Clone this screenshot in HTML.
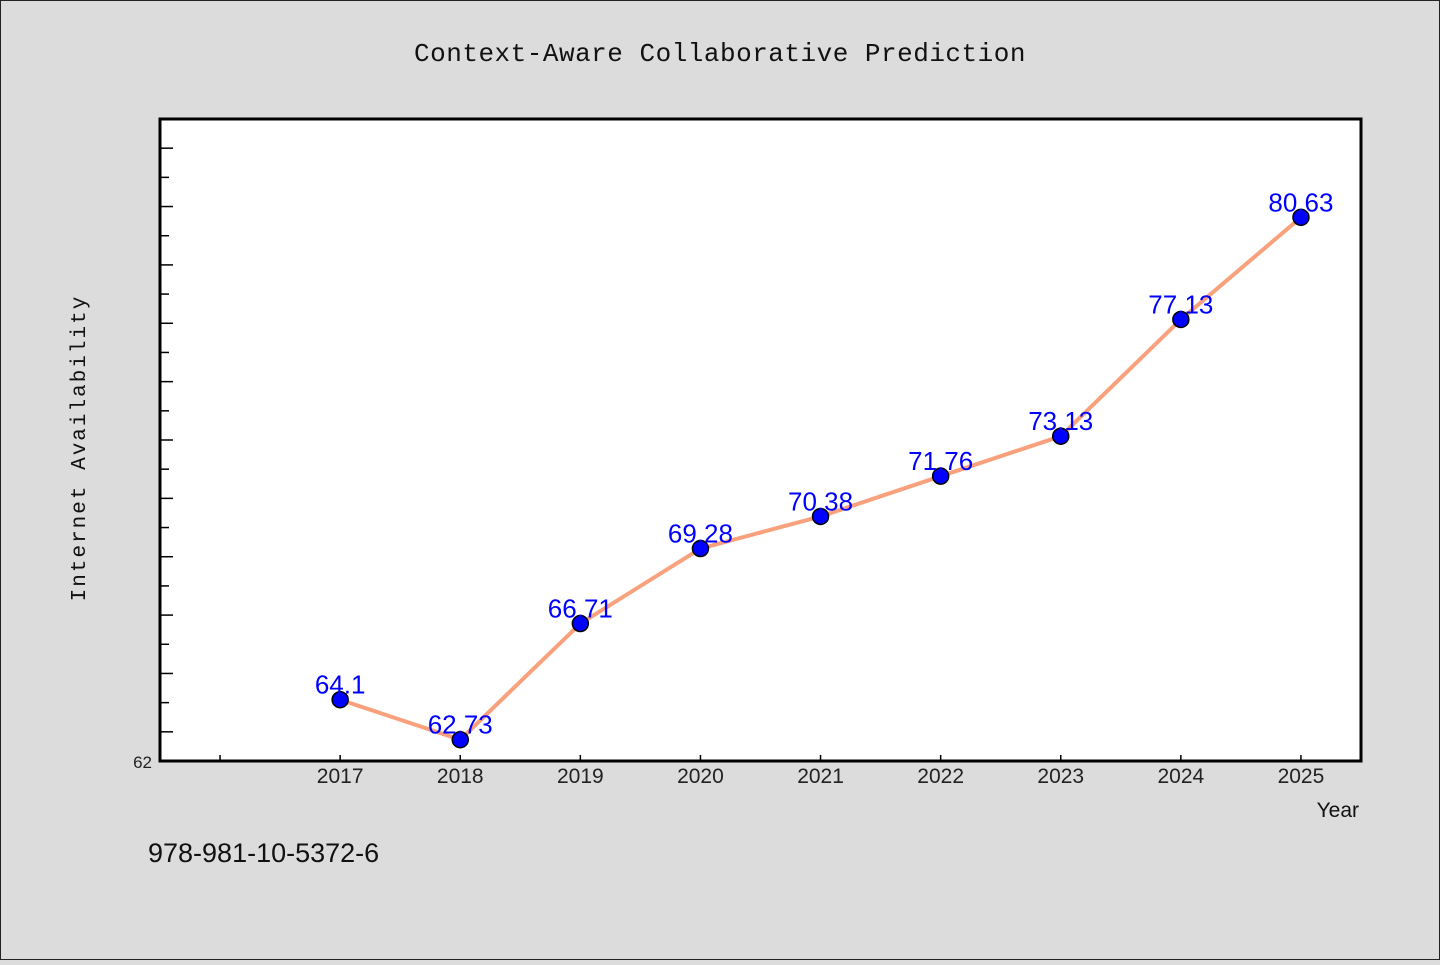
<!DOCTYPE html>
<html><head><meta charset="utf-8"><style>
body{margin:0;background:#dcdcdc;width:1440px;height:960px;overflow:hidden;font-family:"Liberation Sans","WenQuanYi Zen Hei",sans-serif}
</style></head><body>
<svg id="chart" width="1440" height="960" xmlns="http://www.w3.org/2000/svg">
<rect x="0.5" y="0.5" width="1439" height="959" fill="#dcdcdc" stroke="#222"/>
<text x="720" y="61" text-anchor="middle" font-family="Liberation Mono, monospace" font-size="26" letter-spacing="0.5" fill="#111">Context-Aware Collaborative Prediction</text>
<rect x="160" y="119" width="1201" height="642" fill="#fff" stroke="#000" stroke-width="3"/>
<g id="yticks"></g><g id="xticks"></g>
<text x="85" y="448" transform="rotate(-90 85 448)" text-anchor="middle" font-family="Liberation Mono, monospace" font-size="21" letter-spacing="2" fill="#111">Internet Availability</text>
<text x="1359" y="817" text-anchor="end" font-size="21" fill="#111">Year</text>
<text x="148" y="862" font-size="27" fill="#111">978-981-10-5372-6</text>
<g id="series"></g>
</svg>
<script>
const years=[2017,2018,2019,2020,2021,2022,2023,2024,2025];
const values=[64.1,62.73,66.71,69.28,70.38,71.76,73.13,77.13,80.63];
const labels=["64.1","62.73","66.71","69.28","70.38","71.76","73.13","77.13","80.63"];
const yMin=62,yMax=84;
const NS="http://www.w3.org/2000/svg";
const X0=160,X1=1361,Y0=761,Y1=119;
function xs(v){return X0+(v-2015.5)/10*(X1-X0);}
function ys(v){return Y0-(v-yMin)/(yMax-yMin)*(Y0-Y1);}
function mk(t,a,p){const e=document.createElementNS(NS,t);for(const k in a)e.setAttribute(k,a[k]);p.appendChild(e);return e;}
const yt=document.getElementById('yticks');
for(let v=yMin+1;v<yMax;v++){const l=mk('line',{x1:X0,x2:X0+(v%2?13:9),y1:ys(v),y2:ys(v),stroke:'#000','stroke-width':1.5},yt);

}
const yl=mk('text',{x:152,y:Y0+7,'text-anchor':'end','font-size':17,fill:'#222'},yt);yl.textContent=String(yMin);


const xt=document.getElementById('xticks');
for(let y=2016;y<=2025;y++){const l=mk('line',{x1:xs(y),x2:xs(y),y1:Y0,y2:Y0-6,stroke:'#000','stroke-width':1.5},xt);

}
years.forEach(y=>{const t=mk('text',{x:xs(y),y:783,'text-anchor':'middle','font-size':21,fill:'#222'},xt);t.textContent=y;

});
const s=document.getElementById('series');
const pl=mk('polyline',{points:years.map((y,i)=>xs(y)+','+ys(values[i])).join(' '),fill:'none',stroke:'#f9a07c','stroke-width':4},s);


years.forEach((y,i)=>{const c=mk('circle',{cx:xs(y),cy:ys(values[i]),r:8,fill:'#0000ff',stroke:'#000','stroke-width':1.5},s);


const t=mk('text',{x:xs(y),y:ys(values[i])-6,'text-anchor':'middle','font-size':26,fill:'#0000ff'},s);t.textContent=labels[i];

});
</script>
</body></html>
